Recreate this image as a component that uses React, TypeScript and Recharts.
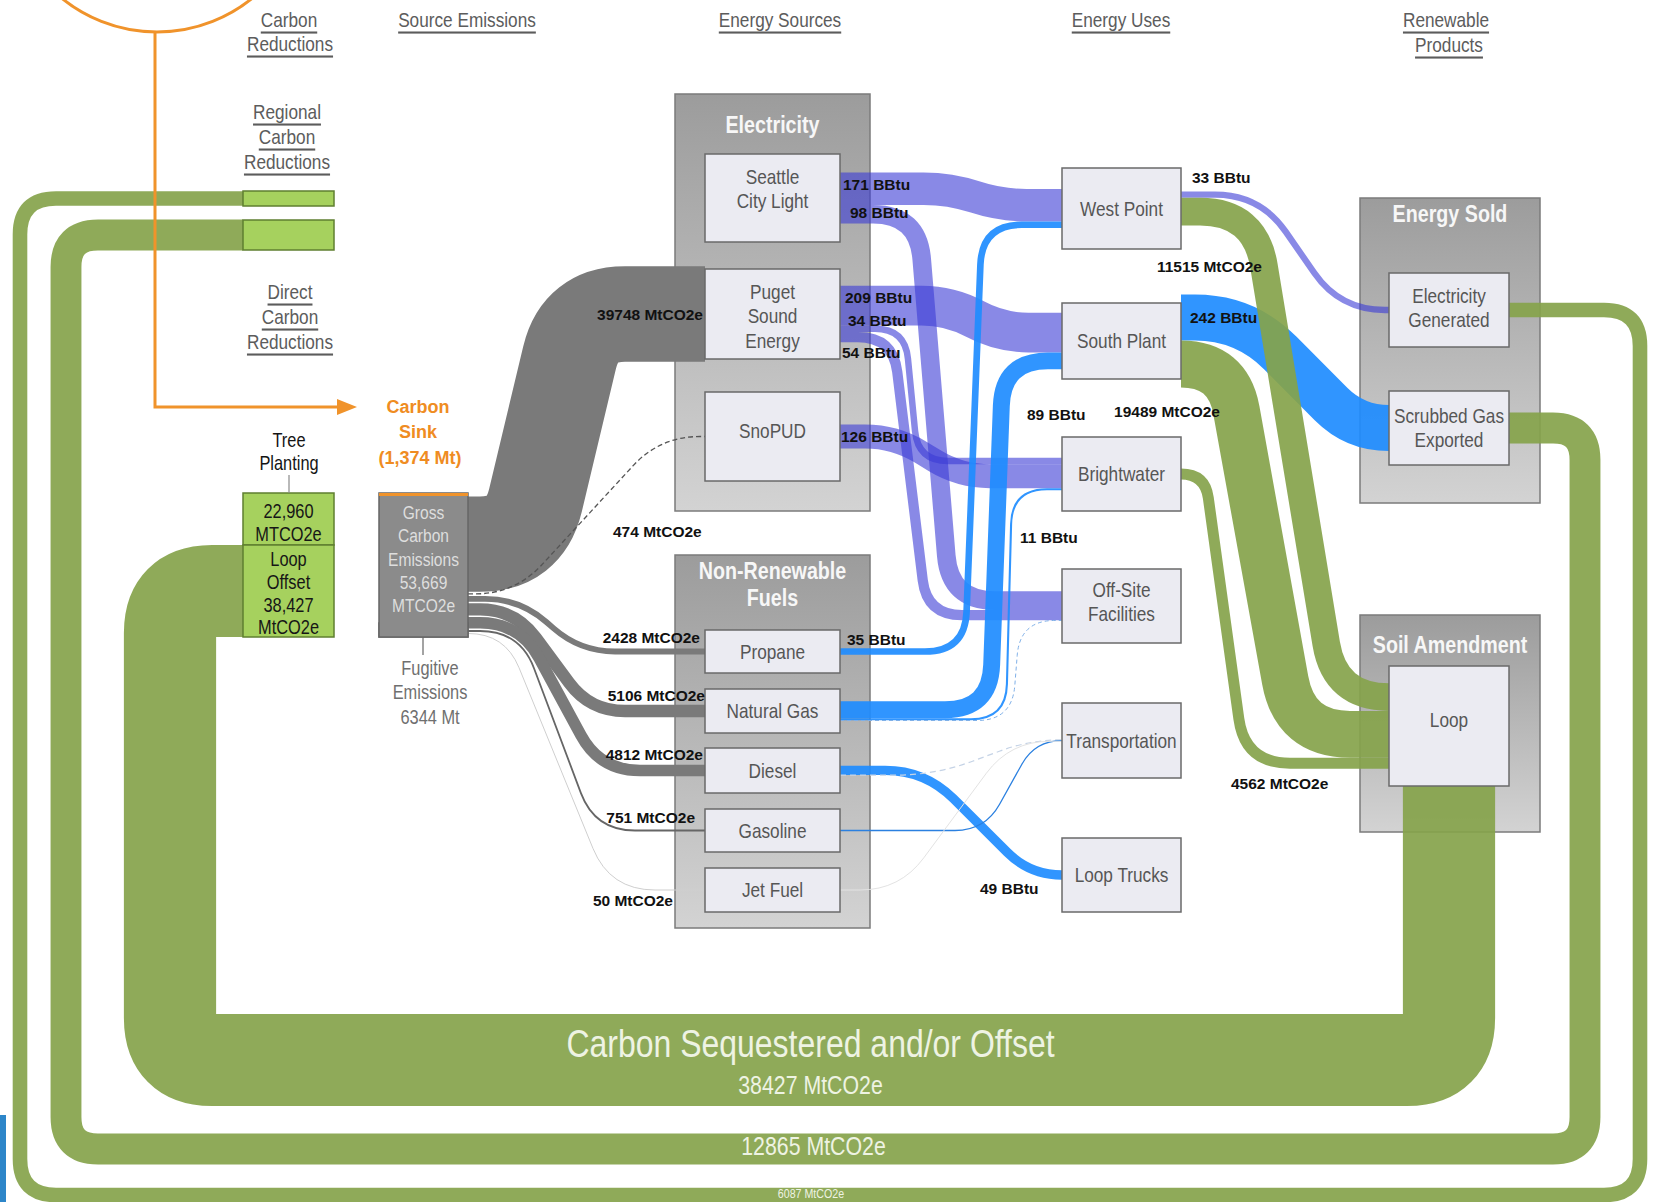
import React from 'react';
import { ComposedChart, Scatter, XAxis, YAxis } from 'recharts';

const W = 1654;
const H = 1202;
const SANS = "'Liberation Sans', Arial, sans-serif";
// no narrow face is installed, so narrow captions are squeezed horizontally
const SQUEEZE = 0.82;

type Unit = 'MtCO2e' | 'BBtu';
type Kind = 'emission' | 'power' | 'fuel' | 'carbon';

// ---- flows as labelled on the diagram ----
const emissionFlows: [string, number][] = [
  ['Puget Sound Energy', 39748],
  ['SnoPUD', 474],
  ['Propane', 2428],
  ['Natural Gas', 5106],
  ['Diesel', 4812],
  ['Gasoline', 751],
  ['Jet Fuel', 50],
];
const powerFlows: [string, string, number][] = [
  ['Seattle City Light', 'West Point', 171],
  ['Seattle City Light', 'Off-Site Facilities', 98],
  ['Puget Sound Energy', 'South Plant', 209],
  ['Puget Sound Energy', 'Brightwater', 34],
  ['Puget Sound Energy', 'Off-Site Facilities', 54],
  ['SnoPUD', 'Brightwater', 126],
];
// unlabelled hairlines are estimated
const fuelFlows: [string, string, number][] = [
  ['Propane', 'West Point', 35],
  ['Natural Gas', 'South Plant', 89],
  ['Natural Gas', 'Brightwater', 11],
  ['Natural Gas', 'Off-Site Facilities', 2],
  ['Diesel', 'Loop Trucks', 49],
  ['Diesel', 'Transportation', 2],
  ['Gasoline', 'Transportation', 6],
  ['Jet Fuel', 'Transportation', 1],
];
const productFlows: [string, string, number, Unit, Kind][] = [
  ['West Point', 'Electricity Generated', 33, 'BBtu', 'power'],
  ['South Plant', 'Scrubbed Gas Exported', 242, 'BBtu', 'fuel'],
  ['West Point', 'Loop', 11515, 'MtCO2e', 'carbon'],
  ['South Plant', 'Loop', 19489, 'MtCO2e', 'carbon'],
  ['Brightwater', 'Loop', 4562, 'MtCO2e', 'carbon'],
];
const offsetFlows: [string, string, number][] = [
  ['Electricity Generated', 'Regional Bar 1', 6087],
  ['Scrubbed Gas Exported', 'Regional Bar 2', 12865],
  ['Loop', 'Loop Offset', 38427],
];

type Flow = { id: string; from: string; to: string; value: number; unit: Unit; kind: Kind };
const mk = (from: string, to: string, value: number, unit: Unit, kind: Kind): Flow => ({ id: `${from}>${to}`, from, to, value, unit, kind });
const flows: Flow[] = [
  ...emissionFlows.map(([to, v]) => mk('Gross Carbon Emissions', to, v, 'MtCO2e', 'emission')),
  ...powerFlows.map(([a, b, v]) => mk(a, b, v, 'BBtu', 'power')),
  ...fuelFlows.map(([a, b, v]) => mk(a, b, v, 'BBtu', 'fuel')),
  ...productFlows.map(([a, b, v, u, k]) => mk(a, b, v, u, k)),
  ...offsetFlows.map(([a, b, v]) => mk(a, b, v, 'MtCO2e', 'carbon')),
];

// band thickness per unit (diagram units per MtCO2e / BBtu)
const PER: Record<Unit, number> = { MtCO2e: 0.0024, BBtu: 0.19 };
const thick = (f: Flow) => f.value * PER[f.unit];

// ---- layout of the diagram (diagram units) ----
type Frame = { x: [number, number]; y: [number, number]; look: 'plain' | 'grey' | 'lime' | 'strip'; lines?: string[]; dy?: number; gap?: number; out?: 'right' | 'bottom' };
const frames: Record<string, Frame> = {
  'Gross Carbon Emissions': { x: [379, 468], y: [493, 637], look: 'grey', gap: 1.5, dy: -6, lines: ['Gross', 'Carbon', 'Emissions', '53,669', 'MTCO2e'] },
  'Tree Planting': { x: [243, 334], y: [493, 545], look: 'lime', dy: 3, lines: ['22,960', 'MTCO2e'] },
  'Loop Offset': { x: [243, 334], y: [545, 637], look: 'lime', dy: 2, lines: ['Loop', 'Offset', '38,427', 'MtCO2e'] },
  'Regional Bar 1': { x: [243, 334], y: [191, 206], look: 'lime' },
  'Regional Bar 2': { x: [243, 334], y: [220, 250], look: 'lime' },
  'Seattle City Light': { x: [705, 840], y: [154, 242], look: 'plain', dy: -9, lines: ['Seattle', 'City Light'] },
  'Puget Sound Energy': { x: [705, 840], y: [269, 359], look: 'plain', dy: 2, lines: ['Puget', 'Sound', 'Energy'] },
  SnoPUD: { x: [705, 840], y: [392, 481], look: 'plain', dy: -6, lines: ['SnoPUD'] },
  Propane: { x: [705, 840], y: [630, 673], look: 'plain', lines: ['Propane'] },
  'Natural Gas': { x: [705, 840], y: [689, 733], look: 'plain', lines: ['Natural Gas'] },
  Diesel: { x: [705, 840], y: [748, 793], look: 'plain', lines: ['Diesel'] },
  Gasoline: { x: [705, 840], y: [809, 852], look: 'plain', lines: ['Gasoline'] },
  'Jet Fuel': { x: [705, 840], y: [868, 912], look: 'plain', lines: ['Jet Fuel'] },
  'West Point': { x: [1062, 1181], y: [168, 249], look: 'plain', lines: ['West Point'] },
  'South Plant': { x: [1062, 1181], y: [303, 379], look: 'plain', lines: ['South Plant'] },
  Brightwater: { x: [1062, 1181], y: [437, 511], look: 'plain', lines: ['Brightwater'] },
  'Off-Site Facilities': { x: [1062, 1181], y: [569, 643], look: 'plain', dy: -4, lines: ['Off-Site', 'Facilities'] },
  Transportation: { x: [1062, 1181], y: [703, 778], look: 'plain', lines: ['Transportation'] },
  'Loop Trucks': { x: [1062, 1181], y: [838, 912], look: 'plain', lines: ['Loop Trucks'] },
  'Electricity Generated': { x: [1389, 1509], y: [273, 347], look: 'plain', dy: -2, lines: ['Electricity', 'Generated'] },
  'Scrubbed Gas Exported': { x: [1389, 1509], y: [391, 465], look: 'plain', lines: ['Scrubbed Gas', 'Exported'] },
  Loop: { x: [1389, 1509], y: [666, 786], look: 'plain', dy: -6, out: 'bottom', lines: ['Loop'] },
};
const fugitiveStrip: Frame = { x: [379, 468], y: [623, 637], look: 'strip' };

const groups = [
  { title: ['Electricity'], x: [675, 870], y: [94, 511], ty: 125 },
  { title: ['Non-Renewable', 'Fuels'], x: [675, 870], y: [555, 928], ty: 571 },
  { title: ['Energy Sold'], x: [1360, 1540], y: [198, 503], ty: 214 },
  { title: ['Soil Amendment'], x: [1360, 1540], y: [615, 832], ty: 645 },
];

type Route = { lanes?: [number, number]; loop?: [number, number, number]; down?: [number, number]; r: number };
const routes: Record<string, Route> = {
  'Gross Carbon Emissions>Puget Sound Energy': { lanes: [525, 580], r: 45 },
  'Gross Carbon Emissions>SnoPUD': { lanes: [515, 660], r: 40 },
  'Gross Carbon Emissions>Propane': { lanes: [520, 580], r: 35 },
  'Gross Carbon Emissions>Natural Gas': { lanes: [515, 590], r: 35 },
  'Gross Carbon Emissions>Diesel': { lanes: [520, 600], r: 40 },
  'Gross Carbon Emissions>Gasoline': { lanes: [520, 595], r: 40 },
  'Gross Carbon Emissions>Jet Fuel': { lanes: [505, 610], r: 45 },
  'Seattle City Light>West Point': { lanes: [950, 1000], r: 30 },
  'Seattle City Light>Off-Site Facilities': { lanes: [918, 950], r: 45 },
  'Puget Sound Energy>South Plant': { lanes: [950, 1000], r: 30 },
  'Puget Sound Energy>Brightwater': { lanes: [905, 918], r: 30 },
  'Puget Sound Energy>Off-Site Facilities': { lanes: [893, 927], r: 35 },
  'SnoPUD>Brightwater': { lanes: [895, 960], r: 30 },
  'Propane>West Point': { lanes: [965, 982], r: 40 },
  'Natural Gas>South Plant': { lanes: [990, 1003], r: 45 },
  'Natural Gas>Brightwater': { lanes: [1006, 1012], r: 35 },
  'Natural Gas>Off-Site Facilities': { lanes: [1012, 1020], r: 35 },
  'Diesel>Loop Trucks': { lanes: [925, 1030], r: 40 },
  'Diesel>Transportation': { lanes: [935, 1030], r: 40 },
  'Gasoline>Transportation': { lanes: [985, 1035], r: 30 },
  'Jet Fuel>Transportation': { lanes: [900, 1010], r: 40 },
  'West Point>Electricity Generated': { lanes: [1260, 1340], r: 45 },
  'South Plant>Scrubbed Gas Exported': { lanes: [1245, 1355], r: 50 },
  'West Point>Loop': { lanes: [1255, 1335], r: 55 },
  'South Plant>Loop': { lanes: [1228, 1295], r: 55 },
  'Brightwater>Loop': { lanes: [1205, 1245], r: 45 },
  'Electricity Generated>Regional Bar 1': { loop: [1640, 1195, 20], r: 36 },
  'Scrubbed Gas Exported>Regional Bar 2': { loop: [1585, 1149, 66], r: 32 },
  'Loop>Loop Offset': { down: [1060, 170], r: 42 },
};

const KIND_STYLE: Record<Kind, { paint: string; op: number }> = {
  emission: { paint: '#7a7a7a', op: 1 },
  power: { paint: '#3a3ad6', op: 0.6 },
  fuel: { paint: '#1e8cff', op: 0.92 },
  carbon: { paint: '#86a34b', op: 0.92 },
};
// hairline flows drawn as thin / dashed strokes
const hairlines: Record<string, { paint: string; w: number; dash?: string; op?: number }> = {
  'Gross Carbon Emissions>SnoPUD': { paint: '#555', w: 1.3, dash: '5 3' },
  'Gross Carbon Emissions>Gasoline': { paint: '#666', w: 1.8 },
  'Gross Carbon Emissions>Jet Fuel': { paint: '#cfcfcf', w: 1 },
  'Natural Gas>Off-Site Facilities': { paint: '#7fb0e8', w: 1, dash: '4 3' },
  'Diesel>Transportation': { paint: '#c5d3e6', w: 1.2, dash: '6 4' },
  'Gasoline>Transportation': { paint: '#2b80e0', w: 1.3 },
  'Jet Fuel>Transportation': { paint: '#e3e3e3', w: 1 },
};

type Tag = { at: 'src' | 'tgt'; dx: number; dy: number; a?: 'start' | 'end' };
const flowTags: Record<string, Tag> = {
  'Gross Carbon Emissions>Puget Sound Energy': { at: 'tgt', dx: -2, dy: 0, a: 'end' },
  'Gross Carbon Emissions>SnoPUD': { at: 'tgt', dx: -92, dy: 95 },
  'Gross Carbon Emissions>Propane': { at: 'tgt', dx: -5, dy: -14, a: 'end' },
  'Gross Carbon Emissions>Natural Gas': { at: 'tgt', dx: 0, dy: -16, a: 'end' },
  'Gross Carbon Emissions>Diesel': { at: 'tgt', dx: -2, dy: -16, a: 'end' },
  'Gross Carbon Emissions>Gasoline': { at: 'tgt', dx: -10, dy: -13, a: 'end' },
  'Gross Carbon Emissions>Jet Fuel': { at: 'tgt', dx: -32, dy: 10, a: 'end' },
  'Seattle City Light>West Point': { at: 'src', dx: 3, dy: -4 },
  'Seattle City Light>Off-Site Facilities': { at: 'src', dx: 10, dy: -2 },
  'Puget Sound Energy>South Plant': { at: 'src', dx: 5, dy: -8 },
  'Puget Sound Energy>Brightwater': { at: 'src', dx: 8, dy: -8 },
  'Puget Sound Energy>Off-Site Facilities': { at: 'src', dx: 2, dy: 15 },
  'SnoPUD>Brightwater': { at: 'src', dx: 1, dy: 0 },
  'Propane>West Point': { at: 'src', dx: 7, dy: -12 },
  'Natural Gas>South Plant': { at: 'tgt', dx: -35, dy: 54 },
  'Natural Gas>Brightwater': { at: 'tgt', dx: -42, dy: 48 },
  'Diesel>Loop Trucks': { at: 'tgt', dx: -82, dy: 13 },
  'West Point>Electricity Generated': { at: 'src', dx: 11, dy: -17 },
  'South Plant>Scrubbed Gas Exported': { at: 'src', dx: 9, dy: 0 },
  'West Point>Loop': { at: 'src', dx: 81, dy: 55, a: 'end' },
  'South Plant>Loop': { at: 'src', dx: 39, dy: 48, a: 'end' },
  'Brightwater>Loop': { at: 'tgt', dx: -158, dy: 20 },
};

const CAP = {
  head: { narrow: true, size: 21, color: '#5c5c5c', weight: 'normal', line: true },
  note: { narrow: true, size: 20, color: '#141414', weight: 'normal' },
  fug: { narrow: true, size: 20, color: '#6f6f6f', weight: 'normal' },
  sink: { narrow: false, size: 18, color: '#ef8c22', weight: 'bold' },
  flow: { narrow: false, size: 15.5, color: '#111', weight: 'bold' },
  big: { narrow: true, size: 39, color: '#eef3e3', weight: 'normal' },
  band: { narrow: true, size: 26, color: '#eef3e3', weight: 'normal' },
  tiny: { narrow: true, size: 13, color: '#eef3e3', weight: 'normal' },
};
type Cap = { t: string; x: number; y: number; k: keyof typeof CAP; a?: 'start' | 'middle' | 'end' };
const headings: Cap[] = [
  { t: 'Carbon', x: 289, y: 20, k: 'head' },
  { t: 'Reductions', x: 290, y: 44, k: 'head' },
  { t: 'Source Emissions', x: 467, y: 20, k: 'head' },
  { t: 'Energy Sources', x: 780, y: 20, k: 'head' },
  { t: 'Energy Uses', x: 1121, y: 20, k: 'head' },
  { t: 'Renewable', x: 1446, y: 20, k: 'head' },
  { t: 'Products', x: 1449, y: 45, k: 'head' },
  { t: 'Regional', x: 287, y: 112, k: 'head' },
  { t: 'Carbon', x: 287, y: 137, k: 'head' },
  { t: 'Reductions', x: 287, y: 162, k: 'head' },
  { t: 'Direct', x: 290, y: 292, k: 'head' },
  { t: 'Carbon', x: 290, y: 317, k: 'head' },
  { t: 'Reductions', x: 290, y: 342, k: 'head' },
  { t: 'Tree', x: 289, y: 440, k: 'note' },
  { t: 'Planting', x: 289, y: 463, k: 'note' },
  { t: 'Carbon', x: 418, y: 407, k: 'sink' },
  { t: 'Sink', x: 418, y: 432, k: 'sink' },
  { t: '(1,374 Mt)', x: 420, y: 458, k: 'sink' },
  { t: 'Fugitive', x: 430, y: 668, k: 'fug' },
  { t: 'Emissions', x: 430, y: 692, k: 'fug' },
  { t: '6344 Mt', x: 430, y: 717, k: 'fug' },
];

// ---- port stacking ----
const srcAt: Record<string, number> = {};
const tgtAt: Record<string, number> = {};
Object.entries(frames).forEach(([name, fr]) => {
  const gap = fr.gap ?? 0;
  const stack = (list: Flow[], store: Record<string, number>, mid: number) => {
    const total = list.reduce((s, f) => s + thick(f), 0) + gap * Math.max(0, list.length - 1);
    let pos = mid - total / 2;
    list.forEach((f) => {
      store[f.id] = pos + thick(f) / 2;
      pos += thick(f) + gap;
    });
  };
  const midY = (fr.y[0] + fr.y[1]) / 2;
  const midX = (fr.x[0] + fr.x[1]) / 2;
  stack(flows.filter((f) => f.from === name), srcAt, fr.out === 'bottom' ? midX : midY);
  stack(flows.filter((f) => f.to === name), tgtAt, midY);
});

type Pt = { x: number; y: number };
function waypoints(f: Flow): Pt[] {
  const a = frames[f.from];
  const b = frames[f.to];
  const rt = routes[f.id];
  const s = srcAt[f.id];
  const t = tgtAt[f.id];
  if (rt.down) {
    const [yB, xL] = rt.down;
    return [{ x: s, y: a.y[1] }, { x: s, y: yB }, { x: xL, y: yB }, { x: xL, y: t }, { x: b.x[0], y: t }];
  }
  if (rt.loop) {
    const [xR, yB, xL] = rt.loop;
    return [{ x: a.x[1], y: s }, { x: xR, y: s }, { x: xR, y: yB }, { x: xL, y: yB }, { x: xL, y: t }, { x: b.x[0], y: t }];
  }
  const [l0, l1] = rt.lanes!;
  return [{ x: a.x[1], y: s }, { x: l0, y: s }, { x: l1, y: t }, { x: b.x[0], y: t }];
}

const flowCaps: Cap[] = flows
  .filter((f) => flowTags[f.id])
  .map((f) => {
    const tg = flowTags[f.id];
    const x = tg.at === 'src' ? frames[f.from].x[1] : frames[f.to].x[0];
    const y = tg.at === 'src' ? srcAt[f.id] : tgtAt[f.id];
    return { t: `${f.value} ${f.unit}`, x: x + tg.dx, y: y + tg.dy, k: 'flow', a: tg.a ?? 'start' } as Cap;
  });

// captions on the three offset bands, centred on their bottom run
const bandCaps: Cap[] = (() => {
  const mid = (id: string, dx: number) => {
    const p = waypoints(flows.find((f) => f.id === id)!);
    const run = p.filter((q) => q.y === p[2].y);
    return (Math.min(...run.map((q) => q.x)) + Math.max(...run.map((q) => q.x))) / 2 + dx;
  };
  const lo = routes['Loop>Loop Offset'].down![0];
  const sg = routes['Scrubbed Gas Exported>Regional Bar 2'].loop![1];
  const eg = routes['Electricity Generated>Regional Bar 1'].loop![1];
  return [
    { t: 'Carbon Sequestered and/or Offset', x: mid('Loop>Loop Offset', 1), y: lo - 16, k: 'big' },
    { t: '38427 MtCO2e', x: mid('Loop>Loop Offset', 1), y: lo + 25, k: 'band' },
    { t: '12865 MtCO2e', x: mid('Scrubbed Gas Exported>Regional Bar 2', -12), y: sg - 3, k: 'band' },
    { t: '6087 MtCO2e', x: mid('Electricity Generated>Regional Bar 1', -19), y: eg - 1, k: 'tiny' },
  ];
})();

// ---- renderers fed by Recharts with scaled points ----
function bend(pts: Pt[], r: number) {
  const n = pts.length;
  let d = `M${pts[0].x},${pts[0].y}`;
  for (let i = 1; i < n - 1; i++) {
    const p0 = pts[i - 1];
    const p = pts[i];
    const p1 = pts[i + 1];
    const l0 = Math.hypot(p.x - p0.x, p.y - p0.y);
    const l1 = Math.hypot(p1.x - p.x, p1.y - p.y);
    const rr = Math.min(r, i === 1 ? l0 : l0 / 2, i === n - 2 ? l1 : l1 / 2);
    if (!(rr > 0.5)) {
      d += ` L${p.x},${p.y}`;
      continue;
    }
    const ax = p.x + ((p0.x - p.x) * rr) / l0;
    const ay = p.y + ((p0.y - p.y) * rr) / l0;
    const bx = p.x + ((p1.x - p.x) * rr) / l1;
    const by = p.y + ((p1.y - p.y) * rr) / l1;
    d += ` L${ax},${ay} Q${p.x},${p.y} ${bx},${by}`;
  }
  return d + ` L${pts[n - 1].x},${pts[n - 1].y}`;
}

// text that can be squeezed to mimic the narrow face of the original
function Txt({ x, y, narrow, children, ...rest }: any) {
  if (!narrow) return <text x={x} y={y} fontFamily={SANS} dominantBaseline="central" {...rest}>{children}</text>;
  return (
    <text transform={`translate(${x},${y}) scale(${SQUEEZE},1)`} x={0} y={0} fontFamily={SANS} dominantBaseline="central" {...rest}>
      {children}
    </text>
  );
}

const Empty = () => <g />;

function Band(props: any) {
  const { points, paint, band, r = 0, op = 1, dash } = props;
  if (!points || points.length < 2) return null;
  return (
    <path d={bend(points, r)} fill="none" stroke={paint} strokeWidth={band} strokeOpacity={op}
      strokeDasharray={dash} strokeLinejoin="round" strokeLinecap="butt" />
  );
}

function Arrow(props: any) {
  const { points, paint } = props;
  if (!points || points.length < 2) return null;
  const tip = points[points.length - 1];
  const pts = [...points.slice(0, -1), { x: tip.x - 16, y: tip.y }];
  return (
    <g>
      <path d={bend(pts, 0)} fill="none" stroke={paint} strokeWidth={3} />
      <path d={`M${tip.x},${tip.y} L${tip.x - 20},${tip.y - 8} L${tip.x - 20},${tip.y + 8} Z`} fill={paint} />
    </g>
  );
}

// circle through three scaled points
function Ring(props: any) {
  const { points, paint } = props;
  if (!points || points.length < 3) return null;
  const [a, b, c] = points;
  const d = 2 * (a.x * (b.y - c.y) + b.x * (c.y - a.y) + c.x * (a.y - b.y));
  const ux = ((a.x ** 2 + a.y ** 2) * (b.y - c.y) + (b.x ** 2 + b.y ** 2) * (c.y - a.y) + (c.x ** 2 + c.y ** 2) * (a.y - b.y)) / d;
  const uy = ((a.x ** 2 + a.y ** 2) * (c.x - b.x) + (b.x ** 2 + b.y ** 2) * (a.x - c.x) + (c.x ** 2 + c.y ** 2) * (b.x - a.x)) / d;
  return <circle cx={ux} cy={uy} r={Math.hypot(a.x - ux, a.y - uy)} fill="none" stroke={paint} strokeWidth={3} />;
}

function GroupBox(props: any) {
  const { points, title, gid } = props;
  if (!points || points.length < 3) return null;
  const [p, q, t] = points;
  const x = Math.min(p.x, q.x);
  const y = Math.min(p.y, q.y);
  return (
    <g>
      <defs>
        <linearGradient id={gid} x1="0" y1="0" x2="0" y2="1">
          <stop offset="0%" stopColor="#9c9c9c" />
          <stop offset="100%" stopColor="#d3d3d3" />
        </linearGradient>
      </defs>
      <rect x={x} y={y} width={Math.abs(q.x - p.x)} height={Math.abs(q.y - p.y)} fill={`url(#${gid})`} stroke="#7b7b7b" strokeWidth={1.5} />
      {title.map((s: string, i: number) => (
        <Txt key={i} x={t.x} y={t.y + i * 27} narrow textAnchor="middle" fontWeight="bold" fontSize={24} fill="#f7f7f7">{s}</Txt>
      ))}
    </g>
  );
}

const LOOKS = {
  plain: { fill: '#ebebf2', stroke: '#6a6a6a', ink: '#565656', fs: 21, lh: 24.5 },
  grey: { fill: '#8b8b8b', stroke: '#666', ink: '#dedede', fs: 19, lh: 23.3 },
  lime: { fill: '#a6d15e', stroke: '#5f7f31', ink: '#161616', fs: 20, lh: 22.8 },
  strip: { fill: '#979797', stroke: '#666', ink: '#000', fs: 20, lh: 20 },
};

function NodeBox(props: any) {
  const { points, look, lines = [], dy = 0 } = props;
  if (!points || points.length < 2) return null;
  const [p, q] = points;
  const s = LOOKS[look as keyof typeof LOOKS];
  const x = Math.min(p.x, q.x);
  const y = Math.min(p.y, q.y);
  const w = Math.abs(q.x - p.x);
  const h = Math.abs(q.y - p.y);
  const top = y + h / 2 + dy - ((lines.length - 1) * s.lh) / 2;
  return (
    <g>
      <rect x={x} y={y} width={w} height={h} fill={s.fill} stroke={s.stroke} strokeWidth={1.5} />
      {lines.map((l: string, i: number) => (
        <Txt key={i} x={x + w / 2} y={top + i * s.lh} narrow textAnchor="middle" fontSize={s.fs} fill={s.ink}>{l}</Txt>
      ))}
    </g>
  );
}

function Words(props: any) {
  const { points, items } = props;
  if (!points) return null;
  return (
    <g>
      {items.map((c: Cap, i: number) => {
        const st = CAP[c.k] as any;
        const p = points[i];
        if (!p) return null;
        return (
          <Txt key={i} x={p.x} y={p.y} narrow={st.narrow} textAnchor={c.a ?? 'middle'} fontSize={st.size} fontWeight={st.weight}
            fill={st.color} style={st.line ? { textDecoration: 'underline' } : undefined}>
            {c.t}
          </Txt>
        );
      })}
    </g>
  );
}

const corners = (fr: Frame) => [{ x: fr.x[0], y: fr.y[0] }, { x: fr.x[1], y: fr.y[1] }];
const orange = '#f0932b';

export default function App() {
  const order: Kind[] = ['emission', 'power', 'fuel', 'carbon'];
  const ordered = order.flatMap((k) => flows.filter((f) => f.kind === k));
  const allCaps = [...headings, ...flowCaps, ...bandCaps];
  return (
    <div style={{ position: 'absolute', left: 0, top: 0, width: W, height: H, background: '#fff', overflow: 'hidden' }}>
      <ComposedChart width={W} height={H} margin={{ top: 0, right: 0, bottom: 0, left: 0 }}>
        <XAxis type="number" dataKey="x" domain={[0, W]} hide allowDataOverflow />
        <YAxis type="number" dataKey="y" domain={[0, H]} reversed hide allowDataOverflow />

        {groups.map((g, i) => (
          <Scatter key={`g${i}`} data={[{ x: g.x[0], y: g.y[0] }, { x: g.x[1], y: g.y[1] }, { x: (g.x[0] + g.x[1]) / 2, y: g.ty }]}
            shape={Empty} line={<GroupBox title={g.title} gid={`grp${i}`} />} isAnimationActive={false} />
        ))}

        {ordered.map((f) => {
          const hl = hairlines[f.id];
          const ks = KIND_STYLE[f.kind];
          return (
            <Scatter key={f.id} data={waypoints(f)} shape={Empty} isAnimationActive={false}
              line={<Band paint={hl ? hl.paint : ks.paint} band={hl ? hl.w : thick(f)} op={hl ? hl.op ?? 1 : ks.op}
                dash={hl?.dash} r={routes[f.id].r} />} />
          );
        })}

        <Scatter data={corners(fugitiveStrip)} shape={Empty} isAnimationActive={false} line={<NodeBox look="strip" />} />
        {Object.entries(frames).map(([name, fr]) => (
          <Scatter key={name} data={corners(fr)} shape={Empty} isAnimationActive={false}
            line={<NodeBox look={fr.look} lines={fr.lines} dy={fr.dy} />} />
        ))}

        {/* gross emissions cap, connectors, carbon sink arrow */}
        <Scatter data={[{ x: 379, y: 494.5 }, { x: 468, y: 494.5 }]} shape={Empty} isAnimationActive={false} line={<Band paint={orange} band={3} />} />
        <Scatter data={[{ x: 289, y: 475 }, { x: 289, y: 493 }]} shape={Empty} isAnimationActive={false} line={<Band paint="#8a8a8a" band={1.2} />} />
        <Scatter data={[{ x: 423, y: 637 }, { x: 423, y: 655 }]} shape={Empty} isAnimationActive={false} line={<Band paint="#666" band={1.2} />} />
        <Scatter data={[{ x: 64, y: 0 }, { x: 157, y: 32 }, { x: 250, y: 0 }]} shape={Empty} isAnimationActive={false} line={<Ring paint={orange} />} />
        <Scatter data={[{ x: 155, y: 32 }, { x: 155, y: 407 }, { x: 357, y: 407 }]} shape={Empty} isAnimationActive={false} line={<Arrow paint={orange} />} />
        <Scatter data={[{ x: 3, y: 1115 }, { x: 3, y: 1202 }]} shape={Empty} isAnimationActive={false} line={<Band paint="#2d86c9" band={6} />} />

        <Scatter data={allCaps.map((c) => ({ x: c.x, y: c.y }))} shape={Empty} isAnimationActive={false} line={<Words items={allCaps} />} />
      </ComposedChart>
    </div>
  );
}
